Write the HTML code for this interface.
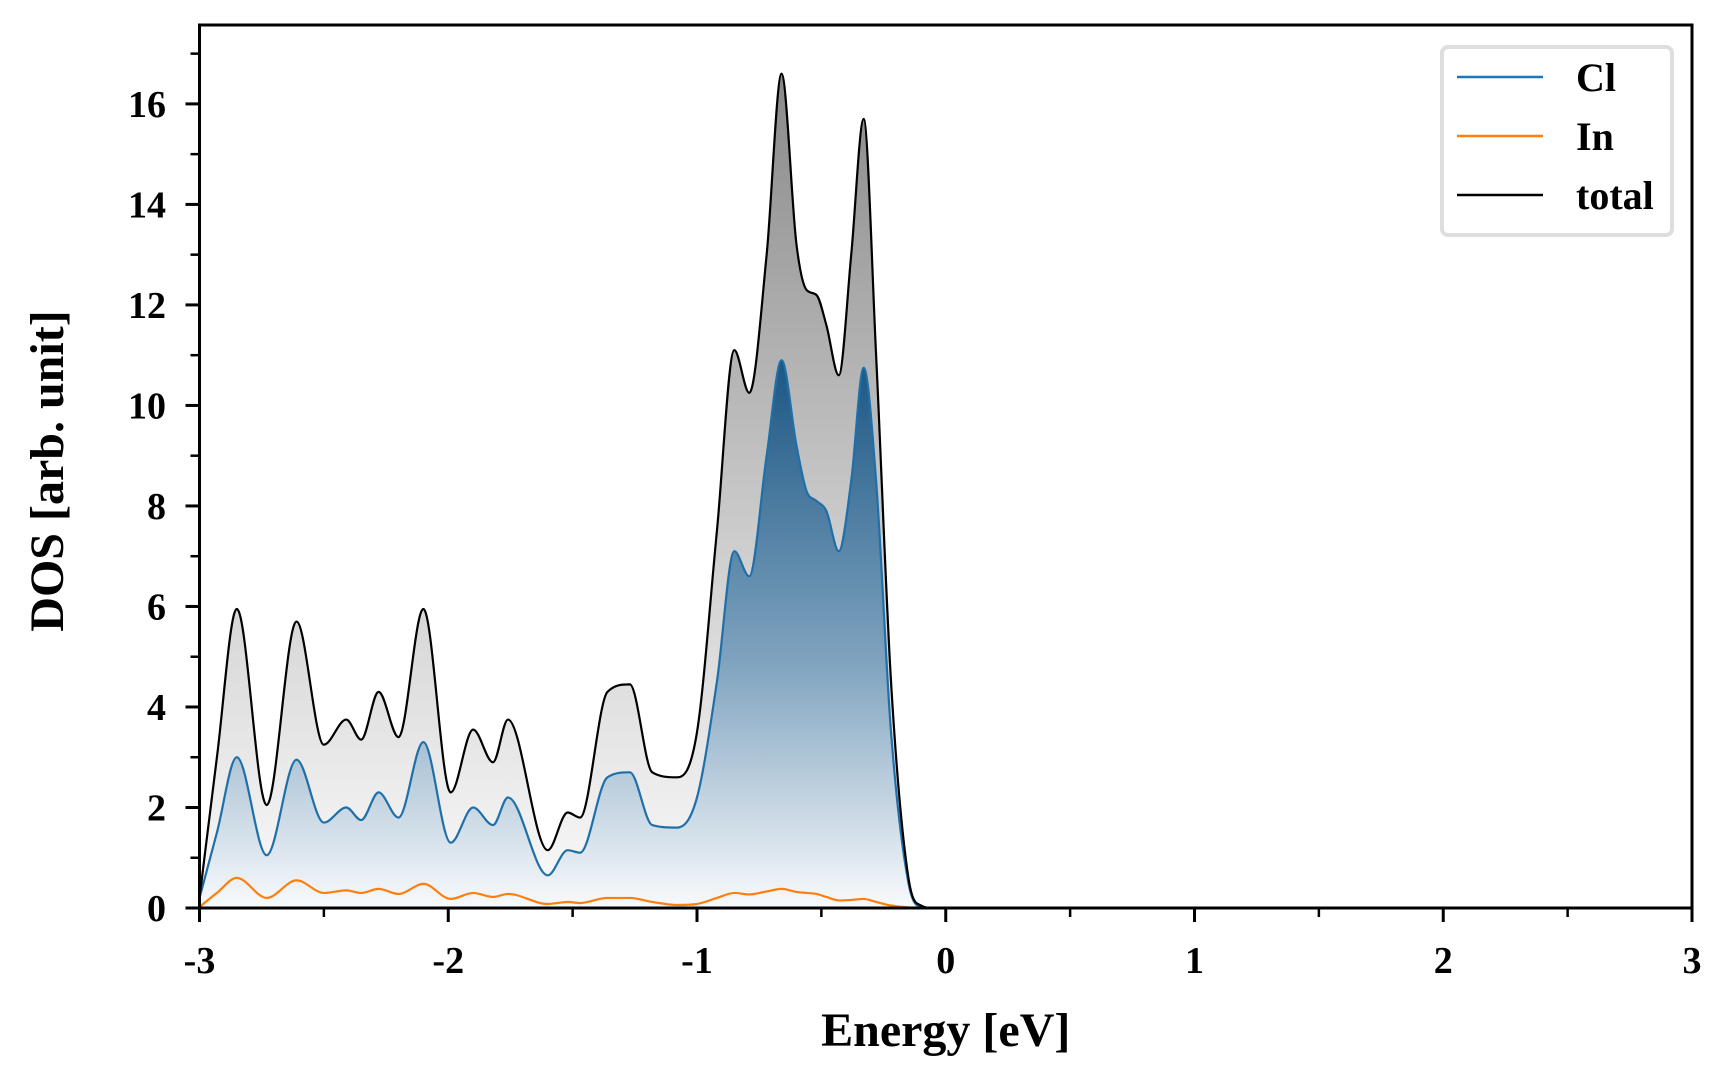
<!DOCTYPE html>
<html><head><meta charset="utf-8"><style>
html,body{margin:0;padding:0;background:#fff}
svg{display:block}
text{font-family:"Liberation Serif",serif;font-weight:bold;fill:#000}
</style></head><body>
<svg id="chart" width="1728" height="1080" viewBox="0 0 1728 1080" xmlns="http://www.w3.org/2000/svg">
<defs>
<linearGradient id="gTot" gradientUnits="userSpaceOnUse" x1="0" y1="80" x2="0" y2="908">
<stop offset="0" stop-color="#8a8a8a"/><stop offset="0.6" stop-color="#d2d2d2"/><stop offset="1" stop-color="#fbfbfb"/></linearGradient>
<linearGradient id="gCl" gradientUnits="userSpaceOnUse" x1="0" y1="360" x2="0" y2="908">
<stop offset="0" stop-color="#1b5683"/><stop offset="0.55" stop-color="#7fa3bf"/><stop offset="1" stop-color="#f8fafc"/></linearGradient>
</defs>
<g id="plot"></g>
</svg>
<script>
const energies = [-3,-2.93,-2.85,-2.73,-2.61,-2.5,-2.41,-2.35,-2.28,-2.2,-2.1,-1.99,-1.9,-1.82,-1.76,-1.6,-1.52,-1.47,-1.36,-1.27,-1.18,-1.08,-1.0,-0.92,-0.85,-0.79,-0.72,-0.66,-0.6,-0.56,-0.52,-0.48,-0.43,-0.38,-0.33,-0.28,-0.22,-0.15,-0.1,-0.05,3];
const totalDOS = [0.2,3.0,5.95,2.05,5.7,3.25,3.75,3.35,4.3,3.4,5.95,2.3,3.55,2.9,3.75,1.15,1.9,1.8,4.3,4.45,2.7,2.6,3.5,7.5,11.1,10.25,13.0,16.6,13.2,12.3,12.2,11.6,10.6,13.0,15.7,11.0,4.5,0.6,0.05,0,0];
const clDOS = [0.2,1.5,3.0,1.05,2.95,1.7,2.0,1.75,2.3,1.8,3.3,1.3,2.0,1.65,2.2,0.65,1.15,1.1,2.6,2.7,1.65,1.6,2.2,4.5,7.1,6.6,9.0,10.9,9.2,8.3,8.1,7.9,7.1,8.5,10.75,8.5,3.5,0.5,0.02,0,0];
const inDOS = [0.02,0.3,0.6,0.2,0.55,0.3,0.35,0.3,0.38,0.28,0.48,0.18,0.3,0.22,0.28,0.08,0.12,0.1,0.2,0.2,0.12,0.06,0.08,0.2,0.3,0.27,0.33,0.38,0.32,0.3,0.28,0.22,0.15,0.16,0.18,0.12,0.05,0.01,0,0,0];
const xTicks = [-3,-2,-1,0,1,2,3];
const xTickLabels = ["-3","-2","-1","0","1","2","3"];
const yTicks = [0,2,4,6,8,10,12,14,16];
const yTickLabels = ["0","2","4","6","8","10","12","14","16"];
const legendLabels = ["Cl","In","total"];

const L=199.5,R=1692,T=25,B=908,XMIN=-3,XMAX=3,YMIN=0,YMAX=17.57;
const sx=v=>L+(v-XMIN)/(XMAX-XMIN)*(R-L);
const sy=v=>B-(v-YMIN)/(YMAX-YMIN)*(B-T);
const NS="http://www.w3.org/2000/svg";
const g=document.getElementById('plot');
function mk(tag,attrs,parent){const e=document.createElementNS(NS,tag);for(const k in attrs)e.setAttribute(k,attrs[k]);(parent||g).appendChild(e);return e;}

function pathFor(xs,ys){
  const n=xs.length,px=xs.map(sx),py=ys.map(sy);
  const d=[],m=[];
  for(let i=0;i<n-1;i++)d.push((py[i+1]-py[i])/(px[i+1]-px[i]));
  m[0]=d[0];m[n-1]=d[n-2];
  for(let i=1;i<n-1;i++){m[i]=(d[i-1]*d[i]<=0)?0:(d[i-1]+d[i])/2;}
  for(let i=0;i<n-1;i++){if(d[i]===0){m[i]=0;m[i+1]=0;continue;}
    const a=m[i]/d[i],b=m[i+1]/d[i],s=a*a+b*b;if(s>9){const t=3/Math.sqrt(s);m[i]=t*a*d[i];m[i+1]=t*b*d[i];}}
  let p='M'+px[0]+','+py[0];
  for(let i=0;i<n-1;i++){const h=(px[i+1]-px[i])/3;
    p+=' C'+(px[i]+h)+','+(py[i]+m[i]*h)+' '+(px[i+1]-h)+','+(py[i+1]-m[i+1]*h)+' '+px[i+1]+','+py[i+1];}
  return p;
}
const closeP=()=>' L'+sx(energies[energies.length-1])+','+sy(0)+' L'+sx(energies[0])+','+sy(0)+' Z';

const tp=pathFor(energies,totalDOS),cp=pathFor(energies,clDOS),ip=pathFor(energies,inDOS);
let e;
e=mk('path',{d:tp+closeP(),fill:'url(#gTot)',stroke:'none'});


e=mk('path',{d:cp+closeP(),fill:'url(#gCl)',stroke:'none'});


e=mk('path',{d:cp,fill:'none',stroke:'#1f6fa8','stroke-width':2.2});


e=mk('path',{d:ip,fill:'none',stroke:'#ff7f0e','stroke-width':2.2});


e=mk('path',{d:tp,fill:'none',stroke:'#000','stroke-width':2.2});



e=mk('rect',{x:L,y:T,width:R-L,height:B-T,fill:'none',stroke:'#000','stroke-width':3});



xTicks.forEach((v,i)=>{
  const t=mk('line',{x1:sx(v),x2:sx(v),y1:B,y2:B+14,stroke:'#000','stroke-width':3});
  
  
  const lb=mk('text',{x:sx(v),y:973,'text-anchor':'middle','font-size':38});
  lb.textContent=xTickLabels[i];
  
  
  if(i<xTicks.length-1){const mv=v+0.5;
    const mt=mk('line',{x1:sx(mv),x2:sx(mv),y1:B,y2:B+9,stroke:'#000','stroke-width':2.5});
    
    }
});
yTicks.forEach((v,i)=>{
  const t=mk('line',{x1:L-14,x2:L,y1:sy(v),y2:sy(v),stroke:'#000','stroke-width':3});
  
  
  const lb=mk('text',{x:166,y:sy(v)+13,'text-anchor':'end','font-size':38});
  lb.textContent=yTickLabels[i];
  
  
});
for(let v=1;v<YMAX;v+=2){
  const mt=mk('line',{x1:L-9,x2:L,y1:sy(v),y2:sy(v),stroke:'#000','stroke-width':2.5});
  
  
}
e=mk('text',{x:(L+R)/2,y:1046,'text-anchor':'middle','font-size':48});
e.textContent='Energy [eV]';


e=mk('text',{x:0,y:0,'text-anchor':'middle','font-size':48,transform:'translate(63,471) rotate(-90)'});
e.textContent='DOS [arb. unit]';



const lg=mk('g',{});


mk('rect',{x:1442,y:47,width:230,height:188,rx:6,fill:'#fff',stroke:'#dedede','stroke-width':4},lg);
const lcols=['#1f77b4','#ff7f0e','#000'];
legendLabels.forEach((s,i)=>{
  const y=77+i*59;
  const ln=mk('line',{x1:1457,x2:1543,y1:y,y2:y,stroke:lcols[i],'stroke-width':2.4},lg);
  
  
  const tx=mk('text',{x:1576,y:y+14,'font-size':40},lg);
  tx.textContent=s;
  
  
});
</script>
</body></html>
